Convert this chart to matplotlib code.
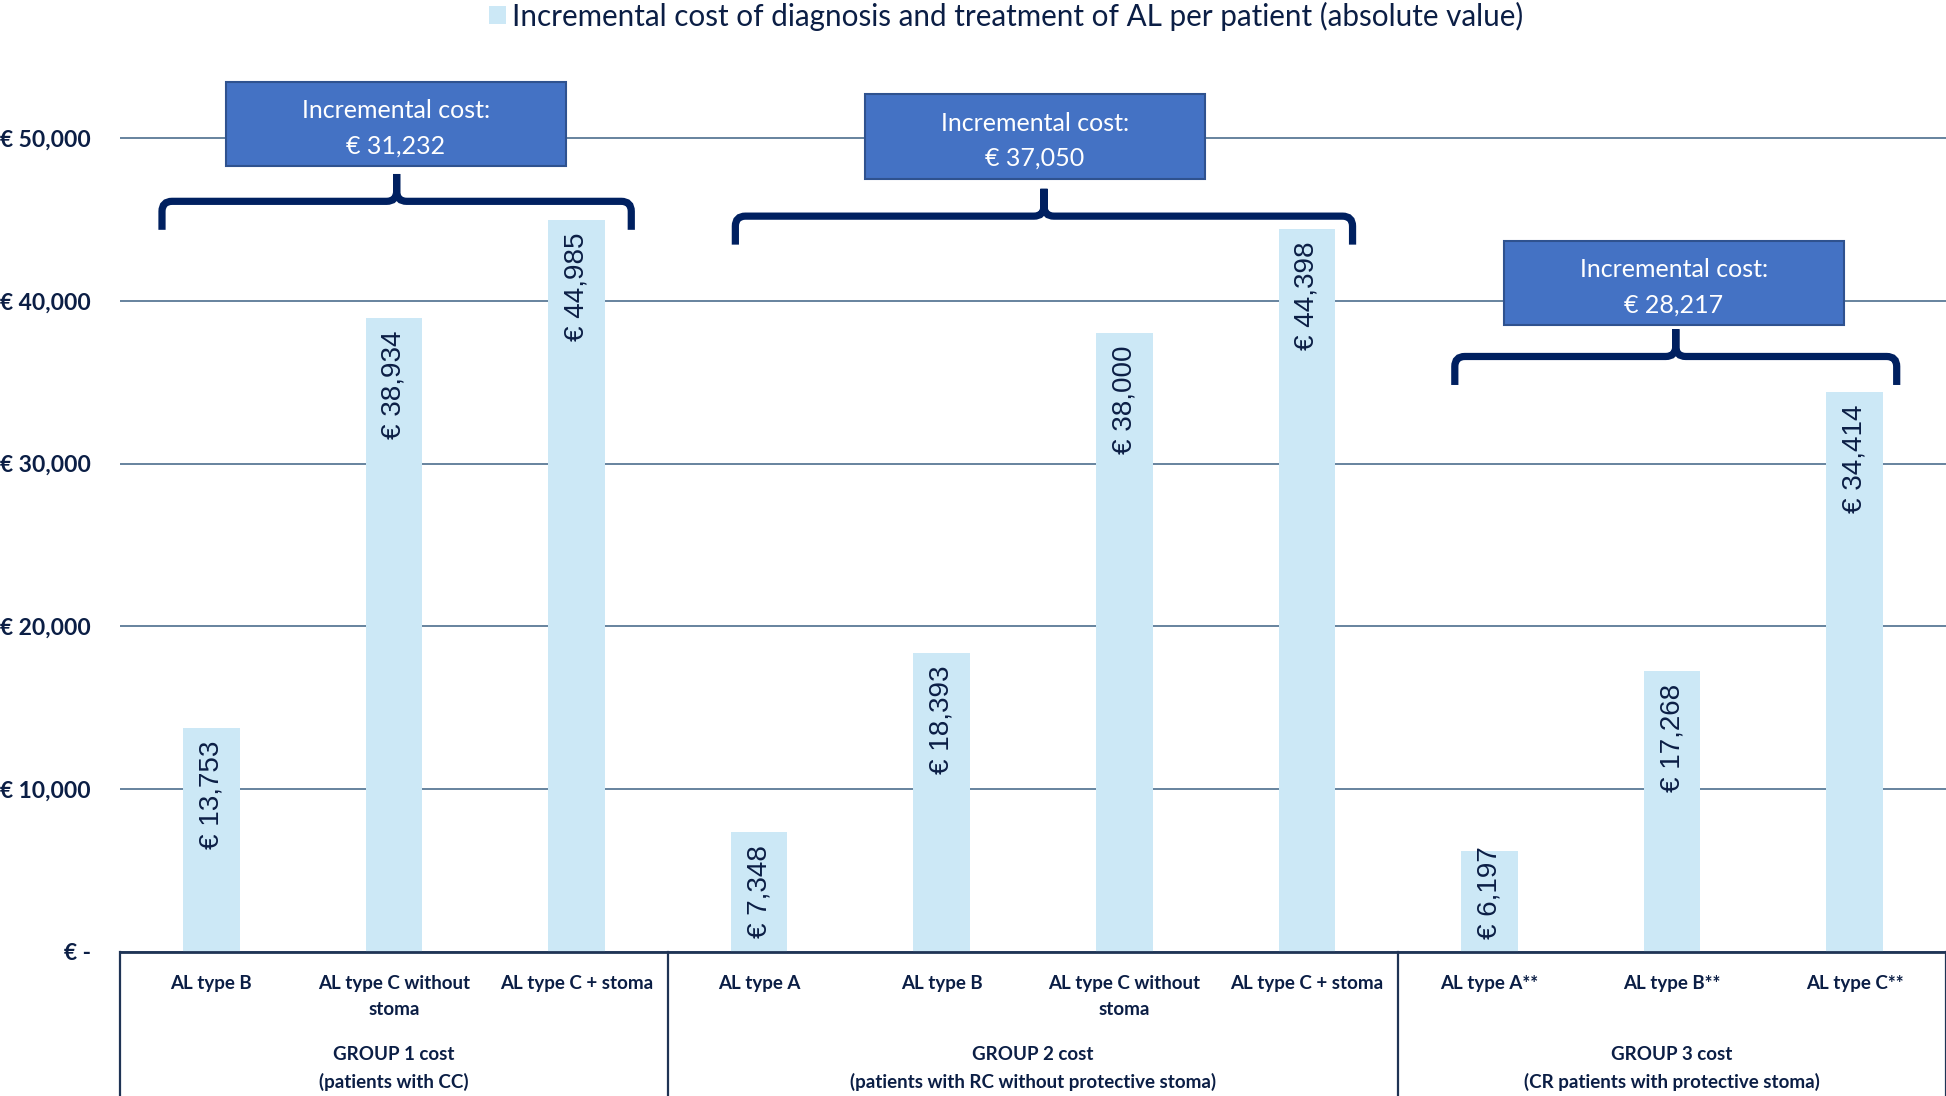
import matplotlib.pyplot as plt
from matplotlib.path import Path
from matplotlib.patches import PathPatch, Rectangle, Patch
from matplotlib.transforms import blended_transform_factory

# ---- data ----
categories = ["AL type B", "AL type C without\nstoma", "AL type C + stoma",
              "AL type A", "AL type B", "AL type C without\nstoma", "AL type C + stoma",
              "AL type A**", "AL type B**", "AL type C**"]
costs = [13753, 38934, 44985, 7348, 18393, 38000, 44398, 6197, 17268, 34414]
group_names = ["GROUP 1 cost\n(patients with CC)",
               "GROUP 2 cost\n(patients with RC without protective stoma)",
               "GROUP 3 cost\n(CR patients with protective stoma)"]
group_sizes = [3, 4, 3]
incremental = [31232, 37050, 28217]
yticks = [0, 10000, 20000, 30000, 40000, 50000]
legend_label = "Incremental cost of diagnosis and treatment of AL per patient (absolute value)"

# bracket / box layout per group (data units)
bracket_base = [44360, 43450, 34830]
bracket_left = [0.27, 0.13, 0.19]
bracket_right = [0.30, 0.25, 0.23]
box_gap = [460, 610, 230]

navy = '#0B1E45'
bar_color = '#CCE8F6'
brace_color = '#002060'

plt.rcParams['font.family'] = ['Lato', 'DejaVu Sans']

fig = plt.figure(figsize=(19.46, 10.96), dpi=100)
ax = fig.add_axes([120 / 1946, 144 / 1096, 1826 / 1946, 895.4 / 1096])

x = list(range(len(costs)))
ax.bar(x, costs, width=0.31, color=bar_color, zorder=2)
ax.set_xlim(-0.5, len(costs) - 0.5)
ax.set_ylim(0, 55000)

# gridlines and axes
ax.set_yticks(yticks)
ax.set_yticklabels(["€ -" if v == 0 else f"€ {v:,}" for v in yticks],
                   fontsize=16.5, fontweight='bold', color=navy)
ax.tick_params(axis='y', length=0, pad=21)
ax.set_xticks([])
ax.yaxis.grid(True, color='#5A7A96', lw=1.3)
ax.set_axisbelow(True)
for s in ['top', 'right', 'left']:
    ax.spines[s].set_visible(False)
ax.spines['bottom'].set_color('#1F3455')
ax.spines['bottom'].set_linewidth(2)

# value labels inside bars
val_labels = []
for xi, v in zip(x, costs):
    t = ax.annotate(f"€ {v:,}", (xi, v), xytext=(0, -9), textcoords='offset points',
                    rotation=90, ha='center', va='top', fontsize=20,
                    family='Liberation Sans', color=navy, zorder=4)
    val_labels.append(t)

# category + group labels below axis
trans = blended_transform_factory(ax.transData, ax.transAxes)
for xi, lab in zip(x, categories):
    ax.annotate(lab, (xi, 0), xycoords=trans, xytext=(0, -16.5), textcoords='offset points',
                ha='center', va='top', fontsize=13.5, fontweight='bold', color=navy,
                linespacing=1.65, annotation_clip=False)

start = 0
bounds = [-0.5]
for gi, (n, name) in enumerate(zip(group_sizes, group_names)):
    first, last = start, start + n - 1
    mid = (first + last) / 2
    ax.annotate(name, (mid, 0), xycoords=trans, xytext=(0, -67.5), textcoords='offset points',
                ha='center', va='top', fontsize=13.5, fontweight='bold', color=navy,
                linespacing=1.65, annotation_clip=False)
    bounds.append(last + 0.5)

    # bracket
    x0 = first - bracket_left[gi]
    x1 = last + bracket_right[gi]
    xc = (x0 + x1) / 2
    y0 = bracket_base[gi]
    yh = y0 + 1750
    ytip = yh + 1680
    rx, ry = 0.055, 620
    verts = [(x0, y0), (x0, yh - ry), (x0, yh), (x0 + rx, yh),
             (xc - rx, yh), (xc, yh), (xc, yh + ry), (xc, ytip),
             (xc, yh + ry), (xc, yh), (xc + rx, yh),
             (x1 - rx, yh), (x1, yh), (x1, yh - ry), (x1, y0)]
    codes = [Path.MOVETO, Path.LINETO, Path.CURVE3, Path.CURVE3,
             Path.LINETO, Path.CURVE3, Path.CURVE3, Path.LINETO,
             Path.LINETO, Path.CURVE3, Path.CURVE3,
             Path.LINETO, Path.CURVE3, Path.CURVE3, Path.LINETO]
    ax.add_patch(PathPatch(Path(verts, codes), fill=False, edgecolor=brace_color,
                           lw=5.2, capstyle='butt', joinstyle='miter', zorder=5, clip_on=False))

    # box with incremental cost
    bx = mid + 0.01
    yb = ytip + box_gap[gi]
    bh = 5200
    ax.add_patch(Rectangle((bx - 0.93, yb), 1.86, bh, facecolor='#4472C4',
                           edgecolor='#2F528F', lw=1.5, zorder=6, clip_on=False))
    ax.text(bx, yb + bh / 2 + 1075 - 250, "Incremental cost:", ha='center', va='center',
            fontsize=18, color='white', zorder=7)
    ax.text(bx, yb + bh / 2 - 1075 - 250, f"€ {incremental[gi]:,}", ha='center', va='center',
            fontsize=18, color='white', zorder=7)
    start += n

for b in bounds:
    ax.plot([b, b], [0, -0.25], transform=trans, color='#1F3455', lw=1.6, clip_on=False)

fig.legend(handles=[Patch(facecolor=bar_color, edgecolor='none')], labels=[legend_label],
           loc='upper center', bbox_to_anchor=(0.517, 1.023), frameon=False, fontsize=21.3,
           handlelength=0.55, handleheight=0.55, handletextpad=0.2, labelcolor=navy)

# labels that would run into the axis are pushed up (as in the original chart)
fig.canvas.draw()
axis_px = ax.transData.transform((0, 0))[1]
for t, v in zip(val_labels, costs):
    bb = t.get_window_extent()
    if bb.y0 < axis_px + 13:
        t.xy = (t.xy[0], 0)
        t.set_va('bottom')
        t.xyann = (0, 9.5)

fig.savefig('out.png', dpi=100)
